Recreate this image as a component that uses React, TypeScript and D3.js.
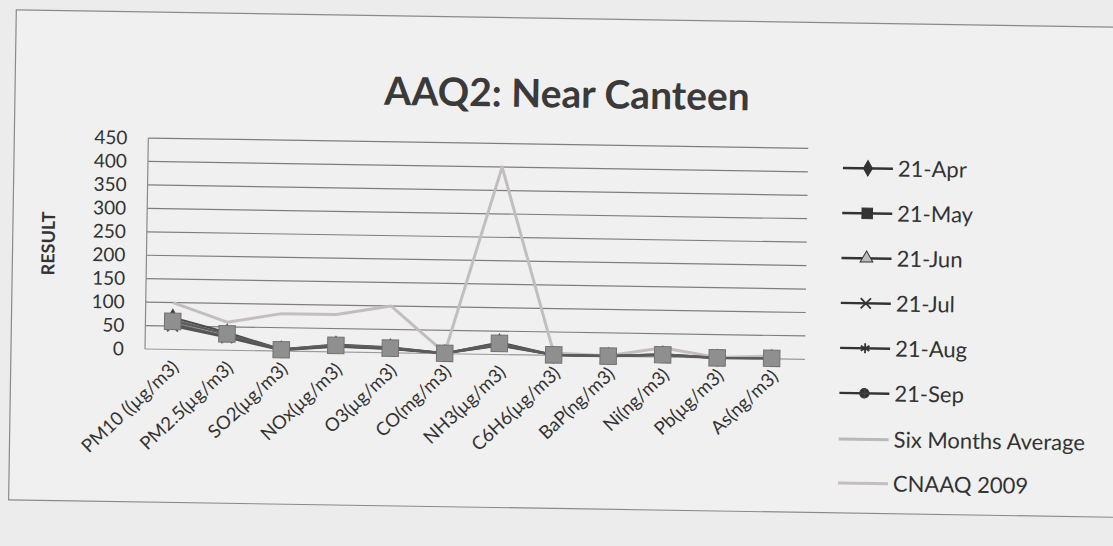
import React from "react";
import * as d3 from "d3";

const categories = [
  "PM10 ((µg/m3)", "PM2.5(µg/m3)", "SO2(µg/m3)", "NOx(µg/m3)", "O3(µg/m3)", "CO(mg/m3)",
  "NH3(µg/m3)", "C6H6(µg/m3)", "BaP(ng/m3)", "Ni(ng/m3)", "Pb(µg/m3)", "As(ng/m3)",
];
const yTicks = [0, 50, 100, 150, 200, 250, 300, 350, 400, 450];

const apr21 = [68, 38, 4, 16, 12, 1.1, 26, 1.2, 0.5, 6, 0.3, 1.5];
const may21 = [60, 35, 3, 14, 10, 0.9, 24, 1.0, 0.4, 5, 0.2, 1.2];
const jun21 = [56, 30, 3, 12, 9, 0.8, 21, 0.9, 0.4, 5, 0.2, 1.1];
const jul21 = [50, 27, 2, 11, 8, 0.7, 19, 0.8, 0.3, 4, 0.2, 1.0];
const aug21 = [53, 29, 3, 12, 9, 0.8, 20, 0.9, 0.4, 5, 0.2, 1.1];
const sep21 = [64, 34, 4, 15, 11, 1.0, 23, 1.1, 0.5, 6, 0.3, 1.4];
const sixMonthsAverage = [58, 32, 3, 13, 10, 0.9, 22, 1.0, 0.4, 5, 0.2, 1.2];
const cnaaq2009 = [100, 60, 80, 80, 100, 2, 400, 5, 1, 20, 1, 6];

type S = { name: string; values: number[]; color: string; width: number; marker: string | null; markerFill: string };
const series: S[] = [
  { name: "21-Apr", values: apr21, color: "#4a4a4a", width: 2, marker: "diamond", markerFill: "#3c3c3c" },
  { name: "21-May", values: may21, color: "#5a5a5a", width: 2, marker: "square", markerFill: "#8f8f8f" },
  { name: "21-Jun", values: jun21, color: "#737373", width: 1.6, marker: "triangle", markerFill: "#bdbdbd" },
  { name: "21-Jul", values: jul21, color: "#555", width: 2, marker: "times", markerFill: "none" },
  { name: "21-Aug", values: aug21, color: "#555", width: 2, marker: "asterisk", markerFill: "none" },
  { name: "21-Sep", values: sep21, color: "#6a6a6a", width: 2, marker: "circle", markerFill: "#9a9a9a" },
  { name: "Six Months Average", values: sixMonthsAverage, color: "#b9b9b9", width: 3, marker: null, markerFill: "none" },
  { name: "CNAAQ 2009", values: cnaaq2009, color: "#c2bebe", width: 3, marker: null, markerFill: "none" },
];

const symMap: Record<string, d3.SymbolType> = {
  diamond: d3.symbolDiamond,
  square: d3.symbolSquare,
  triangle: d3.symbolTriangle,
  times: d3.symbolTimes,
  asterisk: d3.symbolAsterisk,
  circle: d3.symbolCircle,
};

const FONT = "Lato, 'Open Sans', sans-serif";

function Marker({ kind, x, y, fill, stroke, size }: { kind: string; x: number; y: number; fill: string; stroke: string; size: number }) {
  const p = d3.symbol().type(symMap[kind]).size(size)();
  const isStroke = kind === "times" || kind === "asterisk";
  return (
    <g transform={`translate(${x},${y})`}>
      <path d={p || ""} fill={isStroke ? "none" : fill} stroke={stroke} strokeWidth={isStroke ? 1.8 : 1} />
      {kind === "circle" && <path d="M-5,0H5M0,-5V5" stroke="#444" strokeWidth={1.2} />}
    </g>
  );
}

export default function App() {
  const W = 1113, H = 546;
  const x = d3.scaleBand<string>().domain(categories).range([145, 799]);
  const y = d3.scaleLinear().domain([0, 450]).range([349, 138]);
  const cx = (c: string) => (x(c) as number) + x.bandwidth() / 2;
  const line = (vals: number[]) =>
    d3.line<number>().x((_, i) => cx(categories[i])).y((v) => y(v))(vals) || "";

  const drawOrder = [7, 6, 0, 2, 3, 4, 5, 1];
  const legendY = [157, 202, 247, 292, 337, 382, 428, 472];

  return (
    <div style={{ position: "fixed", left: 0, top: 0 }}>
      <svg width={W} height={H} style={{ display: "block", background: "#ececec" }} fontFamily={FONT}>
        <g transform={`rotate(0.9 145 349)`}>
          <rect x={11} y={12} width={1110} height={490} fill="#f0f0f0" stroke="#8a8a8a" strokeWidth={1.2} />
          <text x={563} y={101} textAnchor="middle" fontSize={39} fontWeight={700} fill="#3a3a3a">
            AAQ2: Near Canteen
          </text>
          {yTicks.map((t) => (
            <g key={t}>
              <line x1={145} x2={805} y1={y(t)} y2={y(t)} stroke={t === 0 ? "#9a9a9a" : "#7e7e7e"} strokeWidth={1.2} />
              <text x={124} y={y(t)} dy="0.35em" textAnchor="end" fontSize={19} fill="#333">
                {t}
              </text>
            </g>
          ))}
          <line x1={145} x2={145} y1={138} y2={349} stroke="#8a8a8a" strokeWidth={1.2} />
          <text transform={`translate(53,245) rotate(-90)`} textAnchor="middle" fontSize={18} fontWeight={700} fill="#333">
            RESULT
          </text>
          {categories.map((c) => (
            <text key={c} transform={`translate(${cx(c) + 8},${368}) rotate(-44)`} textAnchor="end" fontSize={18.5} fill="#333">
              {c}
            </text>
          ))}
          {drawOrder.map((i) => {
            const s = series[i];
            return (
              <g key={s.name}>
                <path d={line(s.values)} fill="none" stroke={s.color} strokeWidth={s.width} strokeLinejoin="round" />
                {s.marker &&
                  s.values.map((v, j) => (
                    <Marker key={j} kind={s.marker as string} x={cx(categories[j])} y={y(v)} fill={s.markerFill} stroke={s.marker === "square" ? "#727272" : s.color} size={s.marker === "square" ? 270 : 80} />
                  ))}
              </g>
            );
          })}
          {series.map((s, i) => (
            <g key={s.name} transform={`translate(0,${legendY[i]})`}>
              <line x1={840} x2={890} y1={0} y2={0} stroke={s.marker ? "#333" : s.color} strokeWidth={s.marker ? 2.4 : 3} />
              {s.marker && <Marker kind={s.marker} x={865} y={0} fill={s.marker === "triangle" ? "#bbb" : "#333"} stroke="#333" size={s.marker === "square" ? 110 : 70} />}
              <text x={895} y={0} dy="0.35em" fontSize={22} fill="#333">
                {s.name}
              </text>
            </g>
          ))}
        </g>
      </svg>
    </div>
  );
}
